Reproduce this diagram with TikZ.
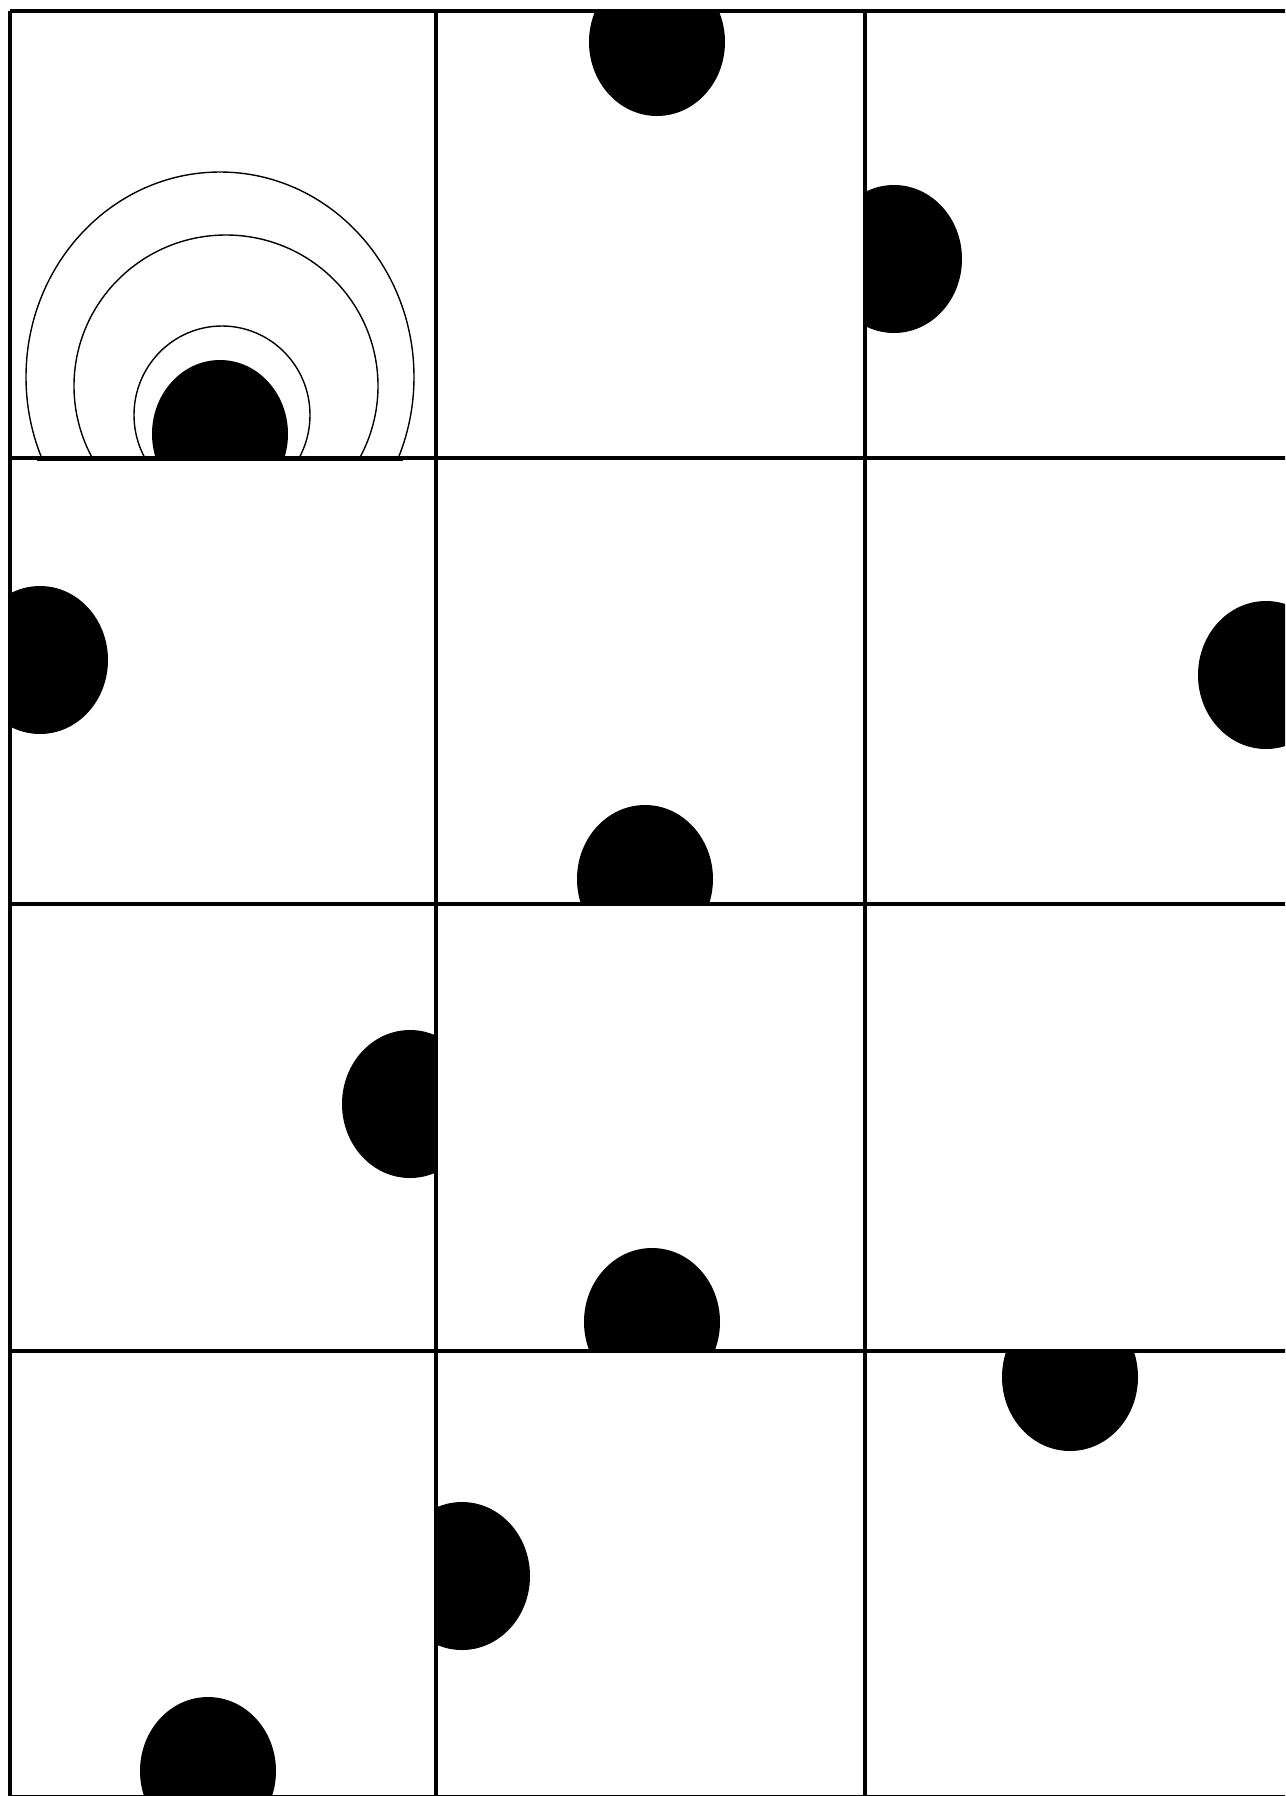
\documentclass[tikz,border=0pt]{standalone}
\usepackage{tikz}
\usetikzlibrary{positioning}

\begin{document}
\begin{tikzpicture}[x=0.1mm, y=-0.1mm,
    gridline/.style={draw=black, line width=0.32mm},
    wave/.style={draw=black, line width=0.14mm},
    dot/.style={fill=black}]
    % page frame
    \useasboundingbox (0,0) rectangle (1285,1796);
    \clip (0,0) rectangle (1285,1796);
    % ripples in the first cell
    \begin{scope}
      \clip (10,11) rectangle (436,458);
      \draw[wave] (220,377) ellipse [x radius=194, y radius=205];
      \draw[wave] (226,386) ellipse [x radius=152, y radius=151];
      \draw[wave] (222,415) ellipse [x radius=88, y radius=89];
    \end{scope}
    \draw[wave] (37,460) -- (403,460);
    % dots, each cut by its own cell
    \foreach \xl/\yt/\xr/\yb/\cx/\cy in {
        10/11/436/458/220/434,
        436/11/865/458/657/42,
        865/11/1293/458/894/259,
        10/458/436/904/40/660,
        436/458/865/904/645/879,
        865/458/1293/904/1266/675,
        10/904/436/1351/410/1104,
        436/904/865/1351/652/1322,
        10/1351/436/1797/208/1771,
        436/1351/865/1797/462/1576,
        865/1351/1293/1797/1070/1377}{
      \begin{scope}
        \clip (\xl,\yt) rectangle (\xr,\yb);
        \fill[dot] (\cx,\cy) ellipse [x radius=68, y radius=74];
      \end{scope}
    }
    % grid
    \foreach \gx in {10, 436, 865, 1293}
      \draw[gridline] (\gx,11) -- (\gx,1797);
    \foreach \gy in {11, 458, 904, 1351, 1797}
      \draw[gridline] (10,\gy) -- (1293,\gy);
\end{tikzpicture}
\end{document}
